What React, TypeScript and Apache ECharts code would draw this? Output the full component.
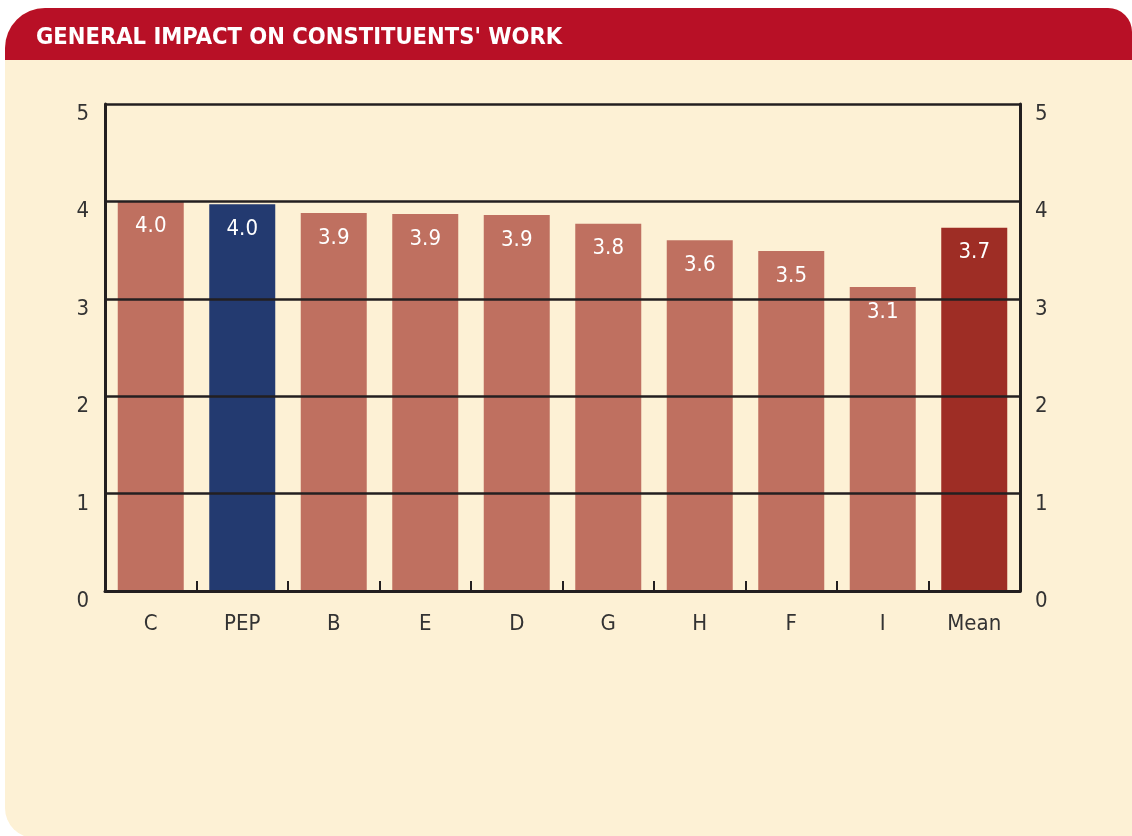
import React, { useEffect, useRef } from "react";
import * as echarts from "echarts";

const categories = ["C", "PEP", "B", "E", "D", "G", "H", "F", "I", "Mean"];
const values = [4.0, 3.97, 3.88, 3.87, 3.86, 3.77, 3.6, 3.49, 3.12, 3.73];
const yTicks = [0, 1, 2, 3, 4, 5];
const title = "GENERAL IMPACT ON CONSTITUENTS' WORK";

const BAR = "#BF7060";
const PEP = "#233A70";
const MEAN = "#9E2D25";
const RED = "#B81026";
const CREAM = "#FDF1D5";
const INK = "#231F20";
const FONT = "'Liberation Sans Narrow', 'DejaVu Sans Condensed', 'Roboto', sans-serif";

export default function App() {
  const ref = useRef<HTMLDivElement>(null);
  useEffect(() => {
    if (!ref.current) return;
    const chart = echarts.init(ref.current, null, { renderer: "svg" });
    const colorFor = (c: string) => (c === "PEP" ? PEP : c === "Mean" ? MEAN : BAR);
    const yAxisBase = {
      type: "value" as const,
      min: yTicks[0],
      max: yTicks[yTicks.length - 1],
      interval: 1,
      z: 10,
      axisLine: { show: true, lineStyle: { color: INK, width: 3 } },
      axisTick: { show: false },
      axisLabel: {
        color: "#333",
        fontSize: 22,
        fontFamily: FONT,
        verticalAlign: "top" as const,
        lineHeight: 17,
      },
    };
    chart.setOption({
      animation: false,
      backgroundColor: "transparent",
      graphic: [
        {
          type: "rect",
          z: -10,
          shape: { x: 5, y: 8, width: 1127, height: 830, r: [40, 24, 0, 30] },
          style: { fill: CREAM },
        },
        {
          type: "rect",
          z: -9,
          shape: { x: 5, y: 8, width: 1127, height: 52, r: [40, 24, 0, 0] },
          style: { fill: RED },
        },
        {
          type: "text",
          z: -8,
          x: 36,
          y: 36,
          style: {
            text: title,
            fill: "#FFFFFF",
            font: `bold 23.5px ${FONT}`,
            verticalAlign: "middle",
          },
        },
      ],
      grid: { left: 105, right: 112, top: 104, bottom: 245 },
      xAxis: {
        type: "category",
        data: categories,
        z: 10,
        axisLine: { show: true, lineStyle: { color: INK, width: 3 } },
        axisTick: { show: true, inside: true, length: 10, lineStyle: { color: INK, width: 2 } },
        axisLabel: { color: "#333", fontSize: 22, fontFamily: FONT, margin: 20 },
      },
      yAxis: [
        {
          ...yAxisBase,
          position: "left",
          axisLabel: { ...yAxisBase.axisLabel, margin: 16 },
          splitLine: { show: true, lineStyle: { color: INK, width: 2.5 } },
        },
        {
          ...yAxisBase,
          position: "right",
          axisLabel: { ...yAxisBase.axisLabel, margin: 15 },
          splitLine: { show: false },
        },
      ],
      series: [
        {
          type: "bar",
          z: 2,
          barWidth: 66,
          data: values.map((v, i) => ({ value: v, itemStyle: { color: colorFor(categories[i]) } })),
          label: {
            show: true,
            position: "insideTop",
            distance: 12,
            color: "#FFFFFF",
            fontSize: 22,
            fontFamily: FONT,
            formatter: (p: any) => Number(p.value).toFixed(1),
          },
        },
      ],
    });
    return () => chart.dispose();
  }, []);
  return (
    <div
      ref={ref}
      style={{ position: "fixed", left: 0, top: 0, width: 1132, height: 836 }}
    />
  );
}
